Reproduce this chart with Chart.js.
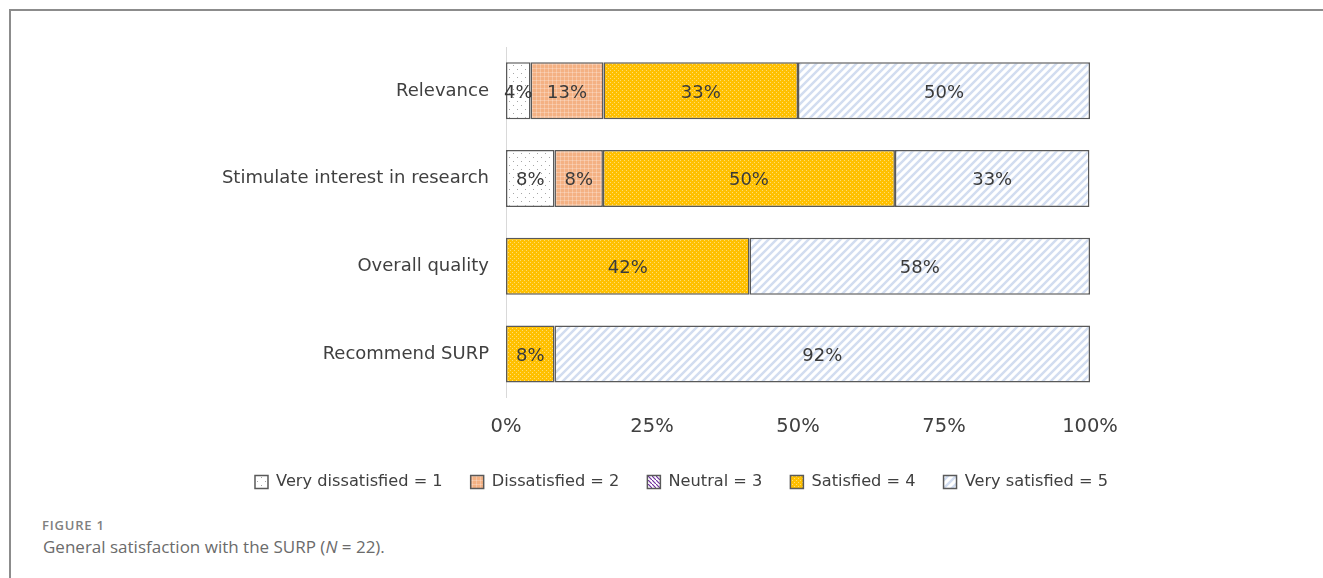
<!DOCTYPE html>
<html>
<head>
<meta charset="utf-8">
<script src="https://cdn.jsdelivr.net/npm/chart.js@4/dist/chart.umd.min.js"></script>
<style>
    body { margin: 0; background: #fff; width: 1323px; height: 578px; overflow: hidden; position: relative; }
    #marco { position: absolute; left: 9px; top: 9px; width: 1314px; height: 569px; border-top: 2px solid #8c8c8c; border-left: 2px solid #8c8c8c; }
    #contenedor { position: absolute; left: 40px; top: 0; width: 1283px; height: 500px; }
    #figura { position: absolute; left: 42px; top: 516px; font-family: "Open Sans", sans-serif; font-weight: 600; font-size: 13px; letter-spacing: 0.8px; color: #808080; }
    #leyenda { position: absolute; left: 43px; top: 535px; font-family: "Open Sans", sans-serif; font-size: 17px; color: #6b6b6b; }
</style>
</head>
<body>
<div id="marco"></div>
<div id="contenedor"><canvas id="myChart"></canvas></div>
<div id="figura">FIGURE 1</div>
<div id="leyenda">General satisfaction with the SURP (<i>N</i> = 22).</div>
<script>
const categorias = ['Relevance', 'Stimulate interest in research', 'Overall quality', 'Recommend SURP'];
const muyInsatisfecho = [4.2, 8.3, 0, 0];
const insatisfecho = [12.5, 8.3, 0, 0];
const neutral = [0, 0, 0, 0];
const satisfecho = [33.3, 50, 41.7, 8.3];
const muySatisfecho = [50, 33.3, 58.3, 91.7];
const ticksX = [0, 25, 50, 75, 100];

// Tramas de relleno para las barras
function crearTrama(tam, fondo, dibujar) {
    const c = document.createElement('canvas');
    c.width = tam;
    c.height = tam;
    const g = c.getContext('2d');
    g.fillStyle = fondo;
    g.fillRect(0, 0, tam, tam);
    dibujar(g);
    return document.getElementById('myChart').getContext('2d').createPattern(c, 'repeat');
}

const tramaPuntos = crearTrama(8, '#ffffff', g => {
    g.fillStyle = '#a6a6a6';
    g.fillRect(1, 1, 1, 1);
    g.fillRect(5, 5, 1, 1);
});
const tramaNaranja = crearTrama(4, '#f4b183', g => {
    g.fillStyle = 'rgba(255,255,255,0.25)';
    g.fillRect(0, 0, 4, 1);
    g.fillRect(0, 0, 1, 4);
});
const tramaMorada = crearTrama(4, '#ffffff', g => {
    g.strokeStyle = '#7030a0';
    g.lineWidth = 1.2;
    g.beginPath();
    g.moveTo(-1, -1); g.lineTo(5, 5);
    g.stroke();
});
const tramaOro = crearTrama(4, '#ffc000', g => {
    g.fillStyle = 'rgba(255,255,255,0.45)';
    g.fillRect(0, 0, 1, 1);
    g.fillRect(2, 2, 1, 1);
});
const tramaRayas = crearTrama(8, '#ffffff', g => {
    g.strokeStyle = '#d2ddf0';
    g.lineWidth = 2.5;
    g.beginPath();
    g.moveTo(-2, 10); g.lineTo(10, -2);
    g.moveTo(-2, 2); g.lineTo(2, -2);
    g.moveTo(6, 10); g.lineTo(10, 6);
    g.stroke();
});

// Etiquetas de porcentaje dentro de cada barra
const etiquetasPlugin = {
    id: 'etiquetas',
    afterDatasetsDraw(chart) {
        const ctx = chart.ctx;
        ctx.save();
        ctx.font = '18px "DejaVu Sans"';
        ctx.fillStyle = '#3a3a3a';
        ctx.textAlign = 'center';
        ctx.textBaseline = 'middle';
        chart.data.datasets.forEach((ds, i) => {
            chart.getDatasetMeta(i).data.forEach((barra, j) => {
                const valor = ds.data[j];
                if (!valor) return;
                const p = barra.getProps(['x', 'y', 'base'], true);
                ctx.fillText(Math.round(valor) + '%', (p.x + p.base) / 2, p.y + 2);
            });
        });
        ctx.restore();
    }
};

function serie(nombre, datos, relleno) {
    return {
        label: nombre,
        data: datos,
        backgroundColor: relleno,
        borderColor: '#595959',
        borderWidth: 1.5,
        borderSkipped: false,
        categoryPercentage: 1,
        barPercentage: 0.65
    };
}

const ctx = document.getElementById('myChart').getContext('2d');
new Chart(ctx, {
    type: 'bar',
    data: {
        labels: categorias,
        datasets: [
            serie('Very dissatisfied = 1', muyInsatisfecho, tramaPuntos),
            serie('Dissatisfied = 2', insatisfecho, tramaNaranja),
            serie('Neutral = 3', neutral, tramaMorada),
            serie('Satisfied = 4', satisfecho, tramaOro),
            serie('Very satisfied = 5', muySatisfecho, tramaRayas)
        ]
    },
    plugins: [etiquetasPlugin],
    options: {
        indexAxis: 'y',
        responsive: true,
        maintainAspectRatio: false,
        animation: false,
        layout: { padding: { top: 47, left: 0, right: 0, bottom: 0 } },
        plugins: {
            tooltip: { enabled: false },
            legend: {
                position: 'bottom',
                labels: {
                    boxWidth: 13,
                    boxHeight: 13,
                    padding: 28,
                    color: '#404040',
                    font: { family: 'DejaVu Sans', size: 16.2 }
                }
            }
        },
        scales: {
            x: {
                stacked: true,
                min: 0,
                max: 100,
                afterBuildTicks: s => { s.ticks = ticksX.map(v => ({ value: v })); },
                afterFit: s => { s.height = 48; },
                grid: { display: false },
                border: { display: false },
                ticks: {
                    padding: 9,
                    color: '#404040',
                    font: { family: 'DejaVu Sans', size: 19.5 },
                    callback: v => v + '%'
                }
            },
            y: {
                stacked: true,
                afterFit: s => { s.width = 466; },
                grid: { display: false },
                border: { display: true, color: '#d9d9d9', width: 1 },
                ticks: {
                    padding: 9,
                    color: '#404040',
                    font: { family: 'DejaVu Sans', size: 18 }
                }
            },
            derecha: {
                type: 'linear',
                position: 'right',
                afterFit: s => { s.width = 233; },
                grid: { display: false },
                border: { display: false },
                ticks: { display: false }
            }
        }
    }
});
</script>
</body>
</html>
